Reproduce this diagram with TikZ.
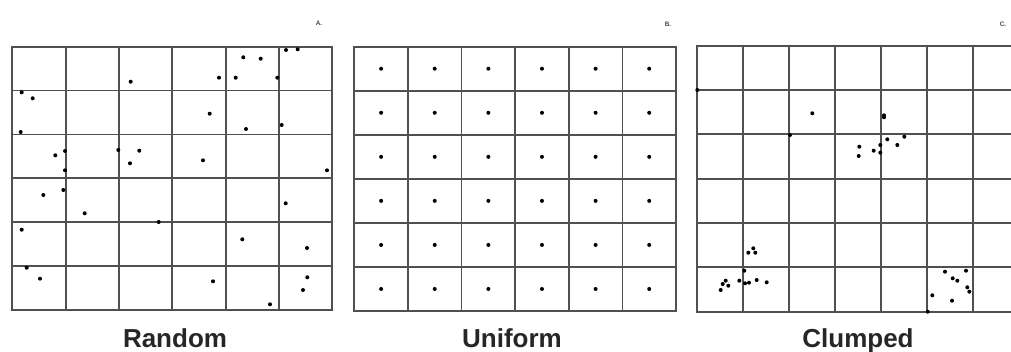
\documentclass[tikz,border=0pt]{standalone}
\usepackage{fontspec}
\setmainfont{Liberation Sans}
\usepackage{xcolor}
\definecolor{gridgray}{HTML}{505050}

\begin{document}
\begin{tikzpicture}[x=1pt, y=-1pt,
  gridline/.style={draw=gridgray, line width=1.8pt, line cap=rect},
  spot/.style={fill=black},
  caption/.style={font=\bfseries\fontsize{26}{28}\selectfont, text=black!85, anchor=base, inner sep=0pt},
  tag/.style={font=\bfseries\fontsize{6.5}{7}\selectfont, text=black!70, inner sep=0pt}
]
\useasboundingbox[fill=white] (0,0) rectangle (1011,351);

% A. random
\foreach \i in {0,...,6}
  \draw[gridline] ({12.3+53.33*\i},46.7) -- ({12.3+53.33*\i},310);
\foreach \j in {0,...,6}
  \draw[gridline] (12.3,{46.7+43.88*\j}) -- (332.3,{46.7+43.88*\j});
\foreach \x/\y in {130.7/81.7, 243.3/57.3, 260.7/58.7, 286/50, 297.7/49.3,
    219/77.7, 235.7/77.7, 277.3/77.7, 21.7/92.3, 32.7/98.3, 209.7/113.7,
    246/129, 281.7/125, 20.7/132, 55.3/155.3, 65/151, 65/170.3, 118.3/150,
    139.3/150.7, 130/163.3, 203/160.3, 327/170.3, 43.3/195, 63.3/190,
    84.7/213.3, 158.7/222, 285.7/203.3, 21.7/229.7, 242.3/239.3, 307/248,
    26.7/267.7, 40/278.7, 213/281.3, 307.3/277.3, 303/290, 270/304.3}
  \fill[spot] (\x,\y) circle (2pt);

% B. uniform
\foreach \i in {0,...,6}
  \draw[gridline] ({354.3+53.62*\i},46.7) -- ({354.3+53.62*\i},311);
\foreach \j in {0,...,6}
  \draw[gridline] (354.3,{46.7+44.05*\j}) -- (676,{46.7+44.05*\j});
\foreach \i in {0,...,5}
  \foreach \j in {0,...,5}
    \fill[spot] ({354.3+53.62*(\i+0.5)},{46.7+44.05*(\j+0.5)}) circle (2pt);

% C. clumped
\foreach \i in {0,...,6}
  \draw[gridline] ({697.3+46*\i},45.7) -- ({697.3+46*\i},311.7);
\foreach \j in {0,...,6}
  \draw[gridline] (697.3,{45.7+44.33*\j}) -- (1011,{45.7+44.33*\j});
\foreach \x/\y in {697.3/90, 812.3/113.3, 884/115.3, 884/117.3, 904.3/136.7,
    887.3/139.3, 880.3/145, 897.3/145, 859.3/146.7, 858.7/156, 873.7/150.7,
    880.3/152.7, 790/135, 748.3/252.7, 753.3/248.3, 755.3/252.7, 744.3/270.7,
    739.3/280.7, 745/283.3, 749/282.7, 756.7/280, 766.7/282.3, 725.7/280.7,
    722.7/284, 728.3/285.7, 720.7/290, 945/271.7, 966/270.7, 952.7/278.3,
    957.3/280.7, 967.3/287.3, 969.3/291.7, 932.3/295.3, 952/300.7, 927.7/311.7}
  \fill[spot] (\x,\y) circle (2pt);

% panel tags and captions
\node[tag] (tagA) at (319,23) {A.};
\node[tag] (tagB) at (668,24) {B.};
\node[tag] (tagC) at (1003,24) {C.};
\node[caption] (capA) at (175,347) {Random};
\node[caption] (capB) at (512,347) {Uniform};
\node[caption] (capC) at (858,347) {Clumped};
\end{tikzpicture}
\end{document}
